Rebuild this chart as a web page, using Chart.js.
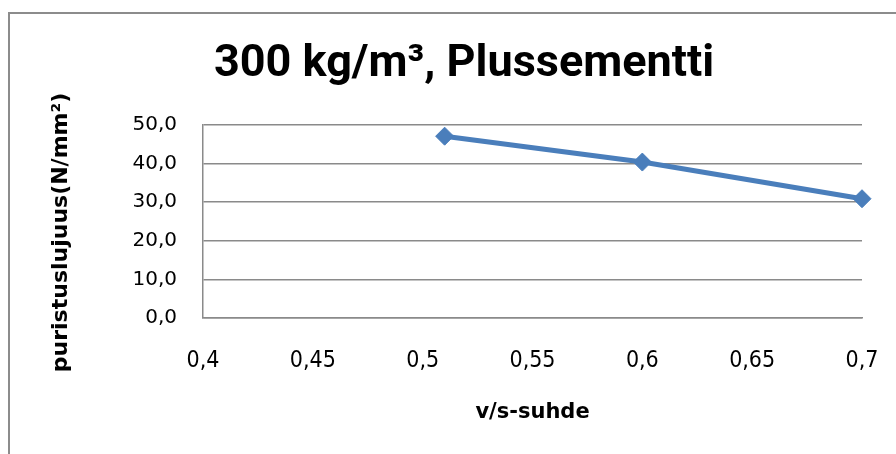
<!DOCTYPE html>
<html>
<head>
<meta charset="utf-8">
<script src="https://cdn.jsdelivr.net/npm/chart.js@4/dist/chart.umd.min.js"></script>
<style>
  html, body { margin: 0; padding: 0; background: #fff; overflow: hidden; }
  #wrap { position: relative; width: 896px; height: 454px; }
  #frame { position: absolute; left: 8px; top: 12px; width: 900px; height: 460px;
           border-left: 2px solid #8c8c8c; border-top: 2px solid #8c8c8c; }
  #c { position: absolute; left: 0; top: 0; }
</style>
</head>
<body>
<div id="wrap">
  <div id="frame"></div>
  <canvas id="c" width="896" height="454"></canvas>
</div>
<script>
const chartTitle = '300 kg/m³, Plussementti';
const xAxisTitle = 'v/s-suhde';
const yAxisTitle = 'puristuslujuus(N/mm²)';
const vsRatio = [0.51, 0.6, 0.7];
const strength = [47.1, 40.4, 30.9];
const xRange = [0.4, 0.7, 0.05];
const yRange = [0, 50, 10];

const points = vsRatio.map((x, i) => ({ x: x, y: strength[i] }));
const comma = v => String(v).replace('.', ',');

const yTitlePlugin = {
  id: 'yTitle',
  afterDraw(chart) {
    const ctx = chart.ctx;
    ctx.save();
    ctx.translate(61, 232.5);
    ctx.rotate(-Math.PI / 2);
    ctx.font = 'bold 22px "DejaVu Sans"';
    ctx.fillStyle = '#000';
    ctx.textAlign = 'center';
    ctx.textBaseline = 'middle';
    ctx.fillText(yAxisTitle, 0, 0);
    ctx.restore();
  }
};

new Chart(document.getElementById('c'), {
  type: 'line',
  data: {
    datasets: [{
      data: points,
      borderColor: '#4a7ebb',
      backgroundColor: '#4a7ebb',
      borderWidth: 5,
      pointStyle: 'rectRot',
      pointRadius: 9,
      pointHoverRadius: 9,
      pointBorderWidth: 1,
      pointBackgroundColor: '#4a7ebb',
      pointBorderColor: '#4a7ebb',
      tension: 0,
      clip: false
    }]
  },
  options: {
    responsive: false,
    animation: false,
    devicePixelRatio: 1,
    layout: { padding: { left: 66, right: 34, top: 0, bottom: 0 } },
    plugins: {
      legend: { display: false },
      tooltip: { enabled: false },
      title: {
        display: true,
        text: chartTitle,
        color: '#000',
        font: { family: 'Roboto', weight: 'bold', size: 45, lineHeight: 1.2 },
        padding: { top: 38, bottom: 33 }
      }
    },
    scales: {
      x: {
        type: 'linear',
        min: xRange[0], max: xRange[1],
        afterFit(s) { s.height = 136; s.paddingRight = 0; s.paddingLeft = 0; },
        grid: { display: false, drawTicks: false },
        border: { display: true, color: '#8a8a8a', width: 1.5 },
        ticks: {
          stepSize: xRange[2],
          padding: 29,
          color: '#000',
          font: { family: '"DejaVu Sans Condensed"', size: 23 },
          callback: v => comma(Number(v.toFixed(2)))
        },
        title: {
          display: true,
          text: xAxisTitle,
          color: '#000',
          font: { family: '"DejaVu Sans"', weight: 'bold', size: 21, lineHeight: 1.2 },
          padding: { top: 0, bottom: 29 }
        }
      },
      y: {
        min: yRange[0], max: yRange[1],
        afterFit(s) { s.width = 137; },
        grid: { color: '#8a8a8a', lineWidth: 1.5, drawTicks: false },
        border: { display: true, color: '#8a8a8a', width: 1.5 },
        ticks: {
          stepSize: yRange[2],
          padding: 26,
          color: '#000',
          font: { family: '"DejaVu Sans"', size: 20 },
          callback: v => comma(v.toFixed(1))
        }
      }
    }
  },
  plugins: [yTitlePlugin]
});
</script>
</body>
</html>
